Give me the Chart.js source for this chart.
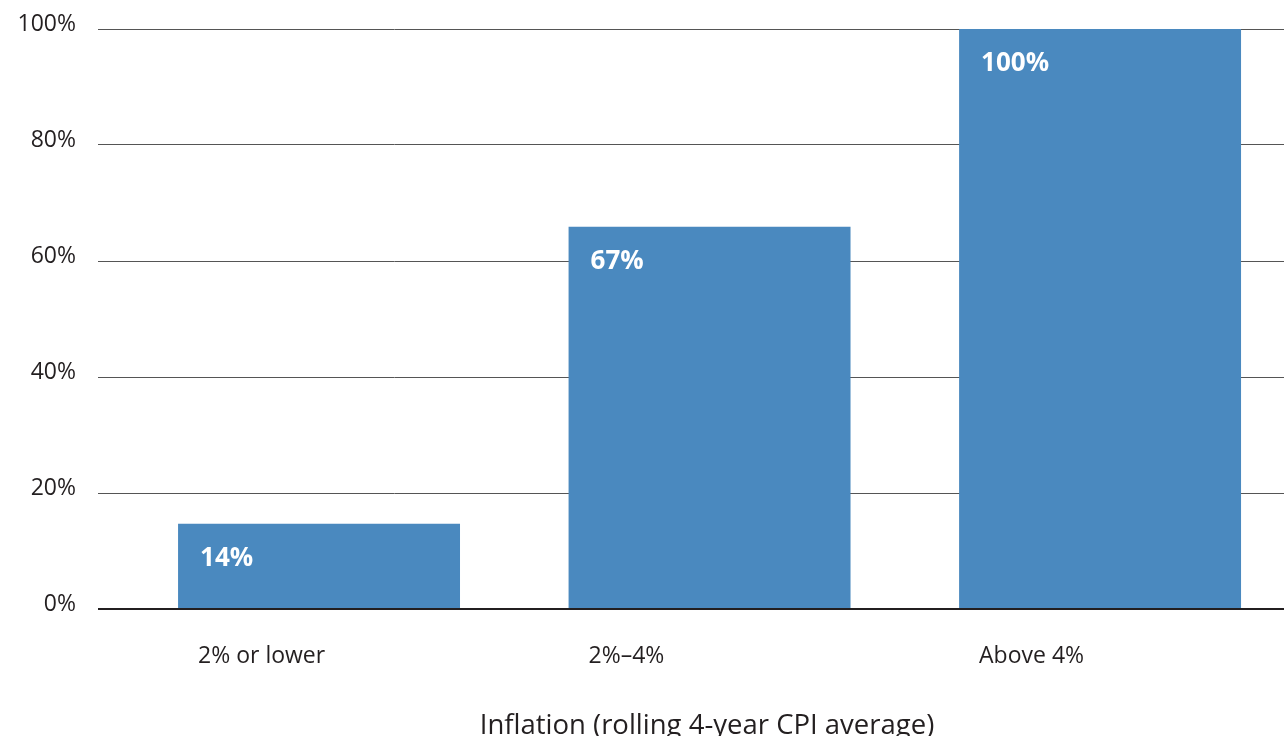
<!DOCTYPE html>
<html lang="en">
<head>
  <meta charset="UTF-8">
  <title>Inflation chart</title>
  <script src="https://cdn.jsdelivr.net/npm/chart.js"></script>
  <style>
    html, body { margin: 0; padding: 0; background: #fff; }
    #wrap { position: relative; width: 1284px; height: 736px; }
  </style>
</head>
<body>
  <div id="wrap">
    <canvas id="chart"></canvas>
  </div>

  <script>
    // data
    const categories = ['2% or lower', '2%–4%', 'Above 4%'];
    const shares = [14.7, 65.9, 100];
    const shareLabels = ['14%', '67%', '100%'];
    const yTicks = [0, 20, 40, 60, 80, 100];
    const axisTitle = 'Inflation (rolling 4-year CPI average)';

    const FONT = "'Open Sans', sans-serif";

    // white labels in the top-left corner of each bar, plus the axis title
    const barText = {
      id: 'barText',
      afterDatasetsDraw(chart) {
        const ctx = chart.ctx;
        const meta = chart.getDatasetMeta(0);
        ctx.save();
        ctx.fillStyle = '#ffffff';
        ctx.font = 'bold 26px ' + FONT;
        ctx.textAlign = 'left';
        ctx.textBaseline = 'alphabetic';
        meta.data.forEach((bar, i) => {
          const left = bar.x - bar.width / 2;
          ctx.fillText(shareLabels[i], left + 22, bar.y + 42);
        });
        ctx.restore();
      },
      afterDraw(chart) {
        const ctx = chart.ctx;
        ctx.save();
        ctx.fillStyle = '#231f20';
        ctx.font = '27.5px ' + FONT;
        ctx.textAlign = 'center';
        ctx.textBaseline = 'alphabetic';
        ctx.fillText(axisTitle, 707, chart.height - 2);
        ctx.restore();
      }
    };

    new Chart(document.getElementById('chart').getContext('2d'), {
      type: 'bar',
      data: {
        datasets: [{
          data: shares.map((v, i) => ({ x: i, y: v })),
          backgroundColor: '#4a89bf',
          borderWidth: 0,
          barPercentage: 0.722,
          categoryPercentage: 1
        }]
      },
      options: {
        responsive: true,
        maintainAspectRatio: false,
        animation: false,
        layout: { padding: { top: 29, right: 0, bottom: 0, left: 0 } },
        plugins: { legend: { display: false }, tooltip: { enabled: false } },
        scales: {
          x: {
            type: 'linear',
            offset: false,
            min: -0.566,
            max: 2.471,
            grid: { display: false, offset: false },
            border: { display: false },
            afterBuildTicks: s => { s.ticks = categories.map((c, i) => ({ value: i })); },
            afterFit: s => { s.height = 127; },
            ticks: {
              callback: v => categories[v],
              align: 'start',
              labelOffset: -121,
              padding: 26,
              maxRotation: 0,
              color: '#231f20',
              font: { family: FONT, size: 23 }
            }
          },
          y: {
            min: 0,
            max: 100,
            afterBuildTicks: s => { s.ticks = yTicks.map(v => ({ value: v })); },
            afterFit: s => { s.width = 98; },
            border: { display: false },
            grid: {
              drawTicks: false,
              color: c => c.tick.value === 0 ? '#231f20' : '#555555',
              lineWidth: c => c.tick.value === 0 ? 2 : 1
            },
            ticks: {
              callback: v => v + '%',
              padding: 22,
              labelOffset: -5,
              color: '#231f20',
              font: { family: FONT, size: 23, lineHeight: 0.6 }
            }
          }
        }
      },
      plugins: [barText]
    });
  </script>
</body>
</html>
